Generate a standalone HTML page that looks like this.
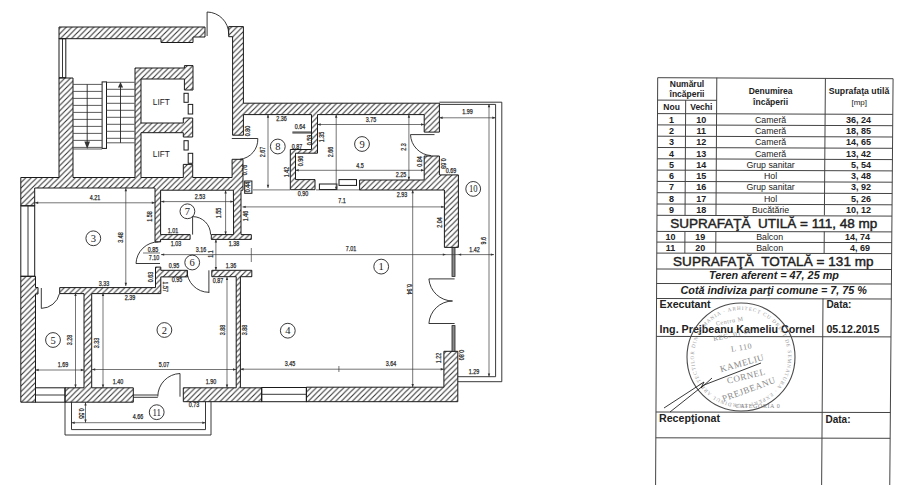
<!DOCTYPE html><html><head><meta charset="utf-8"><style>
html,body{margin:0;padding:0;background:#fff;}
svg{display:block;}
.w{fill:url(#hatch);stroke:#1a1a1a;stroke-width:1;}
.wb{fill:none;stroke:#1a1a1a;stroke-width:1;}
.win{fill:#8a8a8a;stroke:#222;stroke-width:0.8;}
.ln{fill:none;stroke:#222;stroke-width:0.9;}
.dl{fill:none;stroke:#3a3a3a;stroke-width:0.7;}
.st{fill:none;stroke:#4a4a4a;stroke-width:0.9;}
.ah{fill:#333;}
.dt{font-family:"Liberation Sans", sans-serif;font-size:6.8px;fill:#2a2a2a;stroke:#2a2a2a;stroke-width:0.25;text-anchor:middle;}
.cc{fill:none;stroke:#222;stroke-width:0.9;}
.ct{font-family:"Liberation Serif", serif;font-size:10.5px;fill:#222;text-anchor:middle;}
.lift{font-family:"Liberation Sans", sans-serif;font-size:9px;fill:#222;}
.tb{font-family:"Liberation Sans", sans-serif;font-weight:bold;fill:#222;}
.tr{font-family:"Liberation Sans", sans-serif;fill:#222;}
.tl{fill:none;stroke:#444;stroke-width:1;}
.big{stroke:#222;stroke-width:0.45;}
</style></head><body>
<svg width="900" height="485" viewBox="0 0 900 485">
<defs><pattern id="hatch" patternUnits="userSpaceOnUse" width="5.5" height="5.5"><path d="M-1,1 L1,-1 M0,5.5 L5.5,0 M4.5,6.5 L6.5,4.5" stroke="#333" stroke-width="1.1"/></pattern></defs>
<path class="w" fill-rule="evenodd" d="M193.00,42.50 L193.00,37.00 L205.00,37.00 L205.00,27.00 L59.00,27.00 L59.00,38.70 L161.00,38.70 L161.00,42.50Z M183.30,137.00 L192.70,137.00 L192.70,118.00 L183.30,118.00 L183.30,123.00 L141.00,123.00 L141.00,79.00 L184.40,79.00 L184.40,90.00 L193.00,90.00 L193.00,65.60 L184.40,65.60 L184.40,68.00 L135.00,68.00 L135.00,177.50 L73.00,177.50 L73.00,78.00 L59.00,78.00 L59.00,177.50 L20.80,177.50 L20.80,205.80 L34.70,205.80 L34.70,188.00 L155.00,188.00 L155.00,241.90 L160.60,241.90 L160.60,239.40 L190.10,239.40 L190.10,234.60 L160.60,234.60 L160.60,190.20 L232.10,190.20 L233.40,190.20 L233.60,234.60 L211.30,234.60 L211.30,239.40 L251.30,239.40 L251.30,234.60 L241.00,234.60 L241.00,190.20 L243.00,190.20 L243.00,177.50 L243.00,159.30 L232.10,159.30 L232.10,177.50 L192.70,177.50 L192.70,164.40 L183.30,164.40 L183.30,177.50 L141.00,177.50 L141.00,132.70 L183.30,132.70Z M84.00,293.60 L84.00,387.80 L65.00,387.80 L65.00,402.20 L133.30,402.20 L133.30,387.80 L91.70,387.80 L91.70,293.60 L160.80,293.60 L160.80,276.90 L187.40,276.90 L187.40,270.30 L160.80,270.30 L160.80,267.10 L155.50,267.10 L155.50,287.60 L59.70,287.60 L59.70,293.60Z M38.00,294.00 L38.00,287.50 L35.50,287.50 L35.50,276.30 L20.80,276.30 L20.80,402.20 L35.50,402.20 L35.50,294.00Z M243.40,135.20 L243.40,114.60 L311.50,114.60 L311.50,149.50 L290.30,149.50 L290.30,189.70 L315.00,189.70 L315.00,179.60 L295.50,179.60 L295.50,153.20 L317.50,153.20 L317.50,114.60 L424.20,114.60 L424.20,132.10 L439.40,132.10 L439.40,103.20 L243.40,103.20 L243.40,26.60 L228.70,26.60 L228.70,36.70 L232.60,36.70 L232.60,135.20Z M444.40,190.00 L444.40,247.40 L458.40,247.40 L458.40,174.90 L439.40,174.90 L439.40,156.00 L424.20,156.00 L424.20,180.00 L359.60,180.00 L359.60,190.00Z M183.30,387.80 L183.30,401.70 L261.70,401.70 L261.70,387.80 L240.40,387.80 L240.40,276.70 L251.80,276.70 L251.80,270.30 L211.80,270.30 L211.80,276.70 L236.20,276.70 L236.20,387.80Z M443.90,387.20 L306.40,387.20 L306.40,401.70 L457.80,401.70 L457.80,351.30 L443.90,351.30Z "/>
<rect class="wb" x="59" y="38.7" width="6.8" height="39"/>
<line class="ln" x1="62.5" y1="38.7" x2="62.5" y2="77.7"/>
<rect class="wb" x="184" y="93.3" width="4.2" height="9"/>
<rect class="wb" x="188.2" y="104.4" width="4.5" height="9.6"/>
<rect class="wb" x="184" y="140.7" width="4.2" height="9.3"/>
<rect class="wb" x="188.2" y="153.3" width="4.5" height="10"/>
<text class="lift" x="152.8" y="104.5" textLength="17" lengthAdjust="spacingAndGlyphs">LIFT</text>
<text class="lift" x="152.8" y="156.8" textLength="17" lengthAdjust="spacingAndGlyphs">LIFT</text>
<rect class="wb" x="102.1" y="81.9" width="4.4" height="66.5"/>
<line class="st" x1="73" y1="84.4" x2="102.1" y2="84.4"/>
<line class="st" x1="73" y1="91.4" x2="102.1" y2="91.4"/>
<line class="st" x1="73" y1="98.4" x2="102.1" y2="98.4"/>
<line class="st" x1="73" y1="105.4" x2="102.1" y2="105.4"/>
<line class="st" x1="73" y1="112.4" x2="102.1" y2="112.4"/>
<line class="st" x1="73" y1="119.4" x2="102.1" y2="119.4"/>
<line class="st" x1="73" y1="126.4" x2="102.1" y2="126.4"/>
<line class="st" x1="73" y1="133.4" x2="102.1" y2="133.4"/>
<line class="st" x1="73" y1="140.4" x2="102.1" y2="140.4"/>
<line class="st" x1="73" y1="147.4" x2="102.1" y2="147.4"/>
<line class="st" x1="73" y1="149" x2="102.1" y2="149"/>
<line class="st" x1="106.5" y1="82.3" x2="134.6" y2="82.3"/>
<line class="st" x1="106.5" y1="89.3" x2="134.6" y2="89.3"/>
<line class="st" x1="106.5" y1="96.3" x2="134.6" y2="96.3"/>
<line class="st" x1="106.5" y1="103.3" x2="134.6" y2="103.3"/>
<line class="st" x1="106.5" y1="110.3" x2="134.6" y2="110.3"/>
<line class="st" x1="106.5" y1="117.3" x2="134.6" y2="117.3"/>
<line class="st" x1="106.5" y1="124.3" x2="134.6" y2="124.3"/>
<line class="st" x1="106.5" y1="131.3" x2="134.6" y2="131.3"/>
<line class="st" x1="106.5" y1="138.3" x2="134.6" y2="138.3"/>
<line class="st" x1="106.5" y1="142.8" x2="134.6" y2="142.8"/>
<line class="ln" x1="87.2" y1="84.4" x2="87.2" y2="142"/>
<polygon class="ah" points="87.2,149 84.4,141.5 90,141.5"/>
<line class="ln" x1="120.5" y1="86" x2="120.5" y2="142.8"/>
<polygon class="ah" points="120.5,82 117.9,87.5 123.1,87.5"/>
<line class="ln" x1="207.1" y1="12" x2="207.1" y2="36"/>
<path class="ln" d="M207.1,12 A22,22 0 0 1 228.7,34"/>
<line class="ln" x1="292.4" y1="132" x2="311.5" y2="132"/>
<line class="ln" x1="292.4" y1="133" x2="311.5" y2="133"/>
<rect class="wb" x="319.4" y="184" width="17.5" height="5.5"/>
<rect class="wb" x="339" y="179.6" width="17.5" height="5.8"/>
<line class="ln" x1="231.8" y1="138.5" x2="257.8" y2="138.5"/>
<path class="ln" d="M257.8,138.5 A20,20 0 0 1 240,159.3"/>
<rect class="wb" x="244.7" y="181" width="7.2" height="12.3"/>
<line class="ln" x1="192.6" y1="216.6" x2="192.6" y2="234.6"/>
<path class="ln" d="M192.6,216.6 A18,18 0 0 1 210.6,234.6"/>
<line class="ln" x1="136" y1="263.5" x2="160" y2="263.5"/>
<path class="ln" d="M158.5,241.9 A22.5,22.5 0 0 0 136,263.5"/>
<line class="ln" x1="208.9" y1="270.3" x2="208.9" y2="293"/>
<path class="ln" d="M186.9,270.3 A22,22 0 0 0 208.9,292.3"/>
<rect class="wb" x="20.8" y="205.8" width="13.9" height="70.5"/>
<line class="ln" x1="28" y1="205.8" x2="28" y2="276.3"/>
<line class="ln" x1="41.3" y1="288" x2="41.3" y2="308.4"/>
<path class="ln" d="M41.3,308.4 A19,19 0 0 0 59.5,293.6"/>
<rect class="wb" x="35.5" y="387.8" width="29.5" height="14.4"/>
<line class="ln" x1="35.5" y1="395" x2="65" y2="395"/>
<line class="ln" x1="133.3" y1="395" x2="157.8" y2="395"/>
<line class="ln" x1="133.3" y1="397.3" x2="157.8" y2="397.3"/>
<line class="ln" x1="180" y1="373.5" x2="180" y2="396.7"/>
<path class="ln" d="M180,373.5 A23,23 0 0 0 157.8,396.5"/>
<rect class="wb" x="261.7" y="387.5" width="44.7" height="14.2"/>
<line class="ln" x1="261.7" y1="394.3" x2="306.4" y2="394.3"/>
<line class="ln" x1="410.5" y1="134.6" x2="434.5" y2="134.6"/>
<path class="ln" d="M410.5,134.6 A22,22 0 0 0 431,155.6"/>
<rect class="win" x="452" y="247.4" width="3" height="29"/>
<rect class="win" x="452" y="325.6" width="3" height="25.7"/>
<line class="ln" x1="428.9" y1="278.9" x2="454.6" y2="278.9"/>
<path class="ln" d="M428.9,278.9 A24,24 0 0 0 452.5,301"/>
<line class="ln" x1="428.9" y1="323.5" x2="454.6" y2="323.5"/>
<path class="ln" d="M428.9,323.5 A24,24 0 0 1 452.5,301"/>
<path class="ln" d="M439.4,102.2 L501.8,102.2 L501.8,381.7 L457.8,381.7"/>
<path class="ln" d="M439.4,104.4 L495.6,104.4 L495.6,376.7 L457.8,376.7"/>
<path class="ln" d="M65,402.2 L65,435 L211,435 L211,401.7"/>
<path class="ln" d="M71.5,402.2 L71.5,429.6 L205.5,429.6 L205.5,401.7"/>
<line class="dl" x1="35" y1="202.8" x2="155" y2="202.8"/>
<polygon class="ah" points="35.0,202.8 38.2,201.6 38.2,204.0"/>
<polygon class="ah" points="155.0,202.8 151.8,201.6 151.8,204.0"/>
<line class="dl" x1="125.8" y1="188" x2="125.8" y2="286"/>
<polygon class="ah" points="125.8,188.0 124.6,191.2 127.0,191.2"/>
<polygon class="ah" points="125.8,286.0 124.6,282.8 127.0,282.8"/>
<line class="dl" x1="161" y1="201.6" x2="233.6" y2="201.6"/>
<polygon class="ah" points="161.0,201.6 164.2,200.4 164.2,202.8"/>
<polygon class="ah" points="233.6,201.6 230.4,200.4 230.4,202.8"/>
<line class="dl" x1="225.6" y1="190.2" x2="225.6" y2="234.6"/>
<polygon class="ah" points="225.6,190.2 224.4,193.4 226.8,193.4"/>
<polygon class="ah" points="225.6,234.6 224.4,231.4 226.8,231.4"/>
<line class="dl" x1="161" y1="254.6" x2="494" y2="254.6"/>
<polygon class="ah" points="161.0,254.6 164.2,253.4 164.2,255.8"/>
<polygon class="ah" points="494.0,254.6 490.8,253.4 490.8,255.8"/>
<polygon class="ah" points="446.0,254.6 442.8,253.4 442.8,255.8"/>
<polygon class="ah" points="458.0,254.6 461.2,253.4 461.2,255.8"/>
<line class="dl" x1="215.9" y1="239.4" x2="215.9" y2="270.3"/>
<polygon class="ah" points="215.9,239.4 214.7,242.6 217.1,242.6"/>
<polygon class="ah" points="215.9,270.3 214.7,267.1 217.1,267.1"/>
<line class="dl" x1="251.3" y1="248" x2="251.3" y2="262"/>
<line class="dl" x1="143" y1="253" x2="160" y2="253"/>
<line class="dl" x1="92" y1="369.5" x2="236.2" y2="369.5"/>
<polygon class="ah" points="92.0,369.5 95.2,368.3 95.2,370.7"/>
<polygon class="ah" points="236.2,369.5 233.0,368.3 233.0,370.7"/>
<line class="dl" x1="103" y1="292.9" x2="103" y2="387.8"/>
<polygon class="ah" points="103.0,292.9 101.8,296.1 104.2,296.1"/>
<polygon class="ah" points="103.0,387.8 101.8,384.6 104.2,384.6"/>
<line class="dl" x1="227" y1="276.7" x2="227" y2="387.8"/>
<polygon class="ah" points="227.0,276.7 225.8,279.9 228.2,279.9"/>
<polygon class="ah" points="227.0,387.8 225.8,384.6 228.2,384.6"/>
<line class="dl" x1="35.5" y1="370" x2="84" y2="370"/>
<polygon class="ah" points="35.5,370.0 38.7,368.8 38.7,371.2"/>
<polygon class="ah" points="84.0,370.0 80.8,368.8 80.8,371.2"/>
<line class="dl" x1="75.5" y1="292.9" x2="75.5" y2="387.8"/>
<polygon class="ah" points="75.5,292.9 74.3,296.1 76.7,296.1"/>
<polygon class="ah" points="75.5,387.8 74.3,384.6 76.7,384.6"/>
<line class="dl" x1="240.4" y1="369.2" x2="443.9" y2="369.2"/>
<polygon class="ah" points="240.4,369.2 243.6,368.0 243.6,370.4"/>
<polygon class="ah" points="443.9,369.2 440.7,368.0 440.7,370.4"/>
<line class="dl" x1="338.9" y1="366" x2="338.9" y2="372"/>
<line class="dl" x1="412.7" y1="190" x2="412.7" y2="387.2"/>
<polygon class="ah" points="412.7,190.0 411.5,193.2 413.9,193.2"/>
<polygon class="ah" points="412.7,387.2 411.5,384.0 413.9,384.0"/>
<line class="dl" x1="242.5" y1="206.9" x2="444.4" y2="206.9"/>
<polygon class="ah" points="242.5,206.9 245.7,205.7 245.7,208.1"/>
<polygon class="ah" points="444.4,206.9 441.2,205.7 441.2,208.1"/>
<line class="dl" x1="317.5" y1="124.5" x2="424.2" y2="124.5"/>
<polygon class="ah" points="317.5,124.5 320.7,123.3 320.7,125.7"/>
<polygon class="ah" points="424.2,124.5 421.0,123.3 421.0,125.7"/>
<line class="dl" x1="336.2" y1="114.6" x2="336.2" y2="190"/>
<polygon class="ah" points="336.2,114.6 335.0,117.8 337.4,117.8"/>
<polygon class="ah" points="336.2,190.0 335.0,186.8 337.4,186.8"/>
<line class="dl" x1="295.5" y1="170.3" x2="424.2" y2="170.3"/>
<polygon class="ah" points="295.5,170.3 298.7,169.1 298.7,171.5"/>
<polygon class="ah" points="424.2,170.3 421.0,169.1 421.0,171.5"/>
<line class="dl" x1="408.9" y1="114.6" x2="408.9" y2="180"/>
<polygon class="ah" points="408.9,114.6 407.7,117.8 410.1,117.8"/>
<polygon class="ah" points="408.9,180.0 407.7,176.8 410.1,176.8"/>
<line class="dl" x1="268" y1="114.6" x2="268" y2="188"/>
<polygon class="ah" points="268.0,114.6 266.8,117.8 269.2,117.8"/>
<polygon class="ah" points="268.0,188.0 266.8,184.8 269.2,184.8"/>
<line class="dl" x1="439.4" y1="117.8" x2="495.5" y2="117.8"/>
<polygon class="ah" points="439.4,117.8 442.6,116.6 442.6,119.0"/>
<polygon class="ah" points="495.5,117.8 492.3,116.6 492.3,119.0"/>
<line class="dl" x1="489" y1="104" x2="489" y2="376.7"/>
<polygon class="ah" points="489.0,104.0 487.8,107.2 490.2,107.2"/>
<polygon class="ah" points="489.0,376.7 487.8,373.5 490.2,373.5"/>
<line class="dl" x1="71.5" y1="422.7" x2="205.5" y2="422.7"/>
<polygon class="ah" points="71.5,422.7 74.7,421.5 74.7,423.9"/>
<polygon class="ah" points="205.5,422.7 202.3,421.5 202.3,423.9"/>
<line class="dl" x1="85.5" y1="402.2" x2="85.5" y2="422.7"/>
<polygon class="ah" points="85.5,402.2 84.3,405.4 86.7,405.4"/>
<polygon class="ah" points="85.5,422.7 84.3,419.5 86.7,419.5"/>
<line class="dl" x1="253" y1="189.9" x2="290" y2="189.9"/>
<line class="dl" x1="316" y1="189.9" x2="360" y2="189.9"/>
<text class="dt" x="95" y="199.7" textLength="10.5" lengthAdjust="spacingAndGlyphs">4.21</text>
<text class="dt" transform="translate(120.8,237.6) rotate(-90)" x="0" y="1.7" textLength="10.5" lengthAdjust="spacingAndGlyphs">3.48</text>
<text class="dt" x="104" y="285.7" textLength="10.5" lengthAdjust="spacingAndGlyphs">3.33</text>
<text class="dt" x="130" y="299.7" textLength="10.5" lengthAdjust="spacingAndGlyphs">2.39</text>
<text class="dt" transform="translate(150.5,216.5) rotate(-90)" x="0" y="1.7" textLength="10.5" lengthAdjust="spacingAndGlyphs">1.58</text>
<text class="dt" x="200" y="199.2" textLength="10.5" lengthAdjust="spacingAndGlyphs">2.53</text>
<text class="dt" transform="translate(219.5,213) rotate(-90)" x="0" y="1.7" textLength="10.5" lengthAdjust="spacingAndGlyphs">1.55</text>
<text class="dt" transform="translate(246.5,216) rotate(-90)" x="0" y="1.7" textLength="10.5" lengthAdjust="spacingAndGlyphs">1.46</text>
<text class="dt" x="173" y="232.7" textLength="10.5" lengthAdjust="spacingAndGlyphs">1.01</text>
<text class="dt" x="176" y="245.7" textLength="10.5" lengthAdjust="spacingAndGlyphs">1.03</text>
<text class="dt" x="234" y="245.7" textLength="10.5" lengthAdjust="spacingAndGlyphs">1.38</text>
<text class="dt" x="153" y="251.7" textLength="10.5" lengthAdjust="spacingAndGlyphs">0.85</text>
<text class="dt" x="154" y="260.2" textLength="10.5" lengthAdjust="spacingAndGlyphs">7.10</text>
<text class="dt" x="201" y="251.7" textLength="10.5" lengthAdjust="spacingAndGlyphs">3.16</text>
<text class="dt" transform="translate(211,254) rotate(-90)" x="0" y="1.7" textLength="7.5" lengthAdjust="spacingAndGlyphs">1.1</text>
<text class="dt" x="174" y="268.2" textLength="10.5" lengthAdjust="spacingAndGlyphs">0.95</text>
<text class="dt" x="231" y="267.7" textLength="10.5" lengthAdjust="spacingAndGlyphs">1.36</text>
<text class="dt" transform="translate(151.3,277) rotate(-90)" x="0" y="1.7" textLength="10.5" lengthAdjust="spacingAndGlyphs">0.63</text>
<text class="dt" transform="translate(164.7,286.7) rotate(90)" x="0" y="1.7" textLength="10.5" lengthAdjust="spacingAndGlyphs">1.57</text>
<text class="dt" x="177" y="282.2" textLength="10.5" lengthAdjust="spacingAndGlyphs">0.95</text>
<text class="dt" x="218" y="282.7" textLength="10.5" lengthAdjust="spacingAndGlyphs">0.87</text>
<text class="dt" transform="translate(223,330) rotate(-90)" x="0" y="1.7" textLength="10.5" lengthAdjust="spacingAndGlyphs">3.88</text>
<text class="dt" transform="translate(245,330) rotate(-90)" x="0" y="1.7" textLength="10.5" lengthAdjust="spacingAndGlyphs">3.88</text>
<text class="dt" x="164" y="367.2" textLength="10.5" lengthAdjust="spacingAndGlyphs">5.07</text>
<text class="dt" x="290" y="366.2" textLength="10.5" lengthAdjust="spacingAndGlyphs">3.45</text>
<text class="dt" x="391" y="366.2" textLength="10.5" lengthAdjust="spacingAndGlyphs">3.64</text>
<text class="dt" transform="translate(439,358) rotate(-90)" x="0" y="1.7" textLength="10.5" lengthAdjust="spacingAndGlyphs">1.22</text>
<text class="dt" transform="translate(461,355) rotate(90)" x="0" y="1.7" textLength="10.5" lengthAdjust="spacingAndGlyphs">0.80</text>
<text class="dt" x="474" y="373.7" textLength="10.5" lengthAdjust="spacingAndGlyphs">1.29</text>
<text class="dt" x="474.5" y="251.7" textLength="10.5" lengthAdjust="spacingAndGlyphs">1.42</text>
<text class="dt" transform="translate(408.6,289.3) rotate(90)" x="0" y="1.7" textLength="10.5" lengthAdjust="spacingAndGlyphs">6.94</text>
<text class="dt" transform="translate(440.2,222.6) rotate(-90)" x="0" y="1.7" textLength="10.5" lengthAdjust="spacingAndGlyphs">2.04</text>
<text class="dt" transform="translate(484.3,240.7) rotate(-90)" x="0" y="1.7" textLength="7.5" lengthAdjust="spacingAndGlyphs">9.6</text>
<text class="dt" x="402" y="196.7" textLength="10.5" lengthAdjust="spacingAndGlyphs">2.93</text>
<text class="dt" x="401" y="176.7" textLength="10.5" lengthAdjust="spacingAndGlyphs">2.25</text>
<text class="dt" transform="translate(419.8,161.5) rotate(-90)" x="0" y="1.7" textLength="10.5" lengthAdjust="spacingAndGlyphs">0.84</text>
<text class="dt" transform="translate(442.7,163.4) rotate(90)" x="0" y="1.7" textLength="10.5" lengthAdjust="spacingAndGlyphs">0.69</text>
<text class="dt" x="451" y="172.7" textLength="10.5" lengthAdjust="spacingAndGlyphs">0.69</text>
<text class="dt" transform="translate(404,147) rotate(-90)" x="0" y="1.7" textLength="7.5" lengthAdjust="spacingAndGlyphs">2.3</text>
<text class="dt" x="467.5" y="114.2" textLength="10.5" lengthAdjust="spacingAndGlyphs">1.99</text>
<text class="dt" x="371" y="121.7" textLength="10.5" lengthAdjust="spacingAndGlyphs">3.75</text>
<text class="dt" transform="translate(331.5,152) rotate(-90)" x="0" y="1.7" textLength="10.5" lengthAdjust="spacingAndGlyphs">2.66</text>
<text class="dt" transform="translate(322,137) rotate(-90)" x="0" y="1.7" textLength="10.5" lengthAdjust="spacingAndGlyphs">1.35</text>
<text class="dt" transform="translate(310,140) rotate(-90)" x="0" y="1.7" textLength="10.5" lengthAdjust="spacingAndGlyphs">0.59</text>
<text class="dt" x="300" y="129.2" textLength="10.5" lengthAdjust="spacingAndGlyphs">0.64</text>
<text class="dt" x="297" y="148.7" textLength="10.5" lengthAdjust="spacingAndGlyphs">0.87</text>
<text class="dt" transform="translate(301,161) rotate(-90)" x="0" y="1.7" textLength="10.5" lengthAdjust="spacingAndGlyphs">0.96</text>
<text class="dt" transform="translate(287,172) rotate(-90)" x="0" y="1.7" textLength="10.5" lengthAdjust="spacingAndGlyphs">1.42</text>
<text class="dt" x="360" y="167.7" textLength="7.5" lengthAdjust="spacingAndGlyphs">4.5</text>
<text class="dt" x="281.5" y="121.4" textLength="10.5" lengthAdjust="spacingAndGlyphs">2.36</text>
<text class="dt" transform="translate(263.4,152) rotate(-90)" x="0" y="1.7" textLength="10.5" lengthAdjust="spacingAndGlyphs">2.67</text>
<text class="dt" transform="translate(248,131) rotate(-90)" x="0" y="1.7" textLength="10.5" lengthAdjust="spacingAndGlyphs">0.80</text>
<text class="dt" transform="translate(245.5,170) rotate(-90)" x="0" y="1.7" textLength="10.5" lengthAdjust="spacingAndGlyphs">0.76</text>
<text class="dt" transform="translate(248.3,187) rotate(-90)" x="0" y="1.7" textLength="10.5" lengthAdjust="spacingAndGlyphs">0.44</text>
<text class="dt" x="303" y="195.7" textLength="10.5" lengthAdjust="spacingAndGlyphs">0.90</text>
<text class="dt" x="342" y="203.2" textLength="7.5" lengthAdjust="spacingAndGlyphs">7.1</text>
<text class="dt" x="351" y="251.2" textLength="10.5" lengthAdjust="spacingAndGlyphs">7.01</text>
<text class="dt" transform="translate(70,340) rotate(-90)" x="0" y="1.7" textLength="10.5" lengthAdjust="spacingAndGlyphs">3.28</text>
<text class="dt" transform="translate(97,343) rotate(-90)" x="0" y="1.7" textLength="10.5" lengthAdjust="spacingAndGlyphs">3.33</text>
<text class="dt" x="63" y="366.7" textLength="10.5" lengthAdjust="spacingAndGlyphs">1.69</text>
<text class="dt" x="118" y="384.2" textLength="10.5" lengthAdjust="spacingAndGlyphs">1.40</text>
<text class="dt" x="211" y="384.2" textLength="10.5" lengthAdjust="spacingAndGlyphs">1.90</text>
<text class="dt" transform="translate(80.4,413.4) rotate(90)" x="0" y="1.7" textLength="10.5" lengthAdjust="spacingAndGlyphs">0.55</text>
<text class="dt" x="138" y="419.2" textLength="10.5" lengthAdjust="spacingAndGlyphs">4.66</text>
<text class="dt" x="194" y="407.2" textLength="10.5" lengthAdjust="spacingAndGlyphs">0.73</text>
<circle class="cc" cx="381.2" cy="266.6" r="7.4"/>
<text class="ct" x="381.2" y="270.1">1</text>
<circle class="cc" cx="164.4" cy="330" r="7.4"/>
<text class="ct" x="164.4" y="333.5">2</text>
<circle class="cc" cx="93.3" cy="238.3" r="7.4"/>
<text class="ct" x="93.3" y="241.8">3</text>
<circle class="cc" cx="287.8" cy="330.7" r="7.4"/>
<text class="ct" x="287.8" y="334.2">4</text>
<circle class="cc" cx="53" cy="340" r="7.4"/>
<text class="ct" x="53" y="343.5">5</text>
<circle class="cc" cx="192.2" cy="262.5" r="7.4"/>
<text class="ct" x="192.2" y="266.0">6</text>
<circle class="cc" cx="187.4" cy="211.3" r="7.4"/>
<text class="ct" x="187.4" y="214.8">7</text>
<circle class="cc" cx="277.8" cy="146.5" r="7.4"/>
<text class="ct" x="277.8" y="150.0">8</text>
<circle class="cc" cx="362" cy="144" r="7.4"/>
<text class="ct" x="362" y="147.5">9</text>
<circle class="cc" cx="473.2" cy="188.9" r="7.4"/>
<text class="ct" x="473.2" y="192.4" textLength="8.6" lengthAdjust="spacingAndGlyphs">10</text>
<circle class="cc" cx="156.7" cy="412.2" r="7.4"/>
<text class="ct" x="156.7" y="415.7" textLength="8.6" lengthAdjust="spacingAndGlyphs">11</text>
<line class="tl" x1="657.70" y1="77.7" x2="893.10" y2="78.70"/>
<line class="tl" x1="657.70" y1="77.7" x2="655.58" y2="486"/>
<line class="tl" x1="893.09" y1="78.7" x2="889.75" y2="486"/>
<line class="tl" x1="657.59" y1="100.1" x2="716.67" y2="100.30"/>
<line class="tl" x1="685.68" y1="100.1" x2="685.04" y2="215.3"/>
<line class="tl" x1="716.80" y1="77.7" x2="715.98" y2="215.3"/>
<line class="tl" x1="825.40" y1="78.2" x2="824.39" y2="215.3"/>
<line class="tl" x1="684.95" y1="231.4" x2="684.83" y2="253.1"/>
<line class="tl" x1="715.89" y1="231.4" x2="715.76" y2="253.1"/>
<line class="tl" x1="824.27" y1="231.4" x2="824.12" y2="253.1"/>
<line class="tl" x1="657.51" y1="113.6" x2="892.81" y2="114.40"/>
<line class="tl" x1="657.46" y1="124.89999999999999" x2="892.72" y2="125.70"/>
<line class="tl" x1="657.40" y1="136.2" x2="892.62" y2="137.00"/>
<line class="tl" x1="657.34" y1="147.5" x2="892.53" y2="148.30"/>
<line class="tl" x1="657.28" y1="158.8" x2="892.44" y2="159.60"/>
<line class="tl" x1="657.22" y1="170.1" x2="892.34" y2="170.90"/>
<line class="tl" x1="657.16" y1="181.4" x2="892.25" y2="182.20"/>
<line class="tl" x1="657.10" y1="192.7" x2="892.16" y2="193.50"/>
<line class="tl" x1="657.04" y1="204.0" x2="892.07" y2="204.80"/>
<line class="tl" x1="656.99" y1="215.3" x2="891.97" y2="216.10"/>
<line class="tl" x1="656.90" y1="231.4" x2="891.84" y2="231.90"/>
<line class="tl" x1="656.85" y1="242.1" x2="891.75" y2="242.60"/>
<line class="tl" x1="656.79" y1="253.1" x2="891.66" y2="253.60"/>
<line class="tl" x1="656.71" y1="269.0" x2="891.53" y2="269.50"/>
<line class="tl" x1="656.63" y1="283.5" x2="891.41" y2="284.00"/>
<line class="tl" x1="656.55" y1="298.5" x2="891.29" y2="299.00"/>
<line class="tl" x1="656.36" y1="336.4" x2="890.98" y2="336.90"/>
<line class="tl" x1="655.96" y1="412.0" x2="890.36" y2="412.50"/>
<line class="tl" x1="655.83" y1="437.8" x2="890.15" y2="438.30"/>
<line class="tl" x1="823.00" y1="298.5" x2="821.62" y2="486"/>
<text class="tb" x="687" y="86.7" font-size="8.5" text-anchor="middle" >Numărul</text>
<text class="tb" x="687" y="97.2" font-size="8.5" text-anchor="middle" >încăperii</text>
<text class="tb" x="671.6" y="109.9" font-size="8.5" text-anchor="middle" >Nou</text>
<text class="tb" x="701.3" y="109.9" font-size="8.5" text-anchor="middle" >Vechi</text>
<text class="tb" x="770.6" y="94" font-size="8.5" text-anchor="middle" >Denumirea</text>
<text class="tb" x="770.6" y="104.7" font-size="8.5" text-anchor="middle" >încăperii</text>
<text class="tb" x="859" y="94.1" font-size="8.5" text-anchor="middle" textLength="60.6" lengthAdjust="spacingAndGlyphs" >Suprafaţa utilă</text>
<text class="tr" x="859.2" y="105.3" font-size="8" text-anchor="middle" >[mp]</text>
<text class="tb" x="671.6" y="122.6" font-size="9" text-anchor="middle" >1</text>
<text class="tb" x="701.3" y="122.6" font-size="9" text-anchor="middle" >10</text>
<text class="tr" x="770.6" y="122.6" font-size="8.8" text-anchor="middle" >Cameră</text>
<text class="tb" x="871" y="122.6" font-size="9" text-anchor="end" >36, 24</text>
<text class="tb" x="671.6" y="133.89999999999998" font-size="9" text-anchor="middle" >2</text>
<text class="tb" x="701.3" y="133.89999999999998" font-size="9" text-anchor="middle" >11</text>
<text class="tr" x="770.6" y="133.89999999999998" font-size="8.8" text-anchor="middle" >Cameră</text>
<text class="tb" x="871" y="133.89999999999998" font-size="9" text-anchor="end" >18, 85</text>
<text class="tb" x="671.6" y="145.2" font-size="9" text-anchor="middle" >3</text>
<text class="tb" x="701.3" y="145.2" font-size="9" text-anchor="middle" >12</text>
<text class="tr" x="770.6" y="145.2" font-size="8.8" text-anchor="middle" >Cameră</text>
<text class="tb" x="871" y="145.2" font-size="9" text-anchor="end" >14, 65</text>
<text class="tb" x="671.6" y="156.5" font-size="9" text-anchor="middle" >4</text>
<text class="tb" x="701.3" y="156.5" font-size="9" text-anchor="middle" >13</text>
<text class="tr" x="770.6" y="156.5" font-size="8.8" text-anchor="middle" >Cameră</text>
<text class="tb" x="871" y="156.5" font-size="9" text-anchor="end" >13, 42</text>
<text class="tb" x="671.6" y="167.8" font-size="9" text-anchor="middle" >5</text>
<text class="tb" x="701.3" y="167.8" font-size="9" text-anchor="middle" >14</text>
<text class="tr" x="770.6" y="167.8" font-size="8.8" text-anchor="middle" >Grup sanitar</text>
<text class="tb" x="871" y="167.8" font-size="9" text-anchor="end" >5, 54</text>
<text class="tb" x="671.6" y="179.1" font-size="9" text-anchor="middle" >6</text>
<text class="tb" x="701.3" y="179.1" font-size="9" text-anchor="middle" >15</text>
<text class="tr" x="770.6" y="179.1" font-size="8.8" text-anchor="middle" >Hol</text>
<text class="tb" x="871" y="179.1" font-size="9" text-anchor="end" >3, 48</text>
<text class="tb" x="671.6" y="190.4" font-size="9" text-anchor="middle" >7</text>
<text class="tb" x="701.3" y="190.4" font-size="9" text-anchor="middle" >16</text>
<text class="tr" x="770.6" y="190.4" font-size="8.8" text-anchor="middle" >Grup sanitar</text>
<text class="tb" x="871" y="190.4" font-size="9" text-anchor="end" >3, 92</text>
<text class="tb" x="671.6" y="201.7" font-size="9" text-anchor="middle" >8</text>
<text class="tb" x="701.3" y="201.7" font-size="9" text-anchor="middle" >17</text>
<text class="tr" x="770.6" y="201.7" font-size="8.8" text-anchor="middle" >Hol</text>
<text class="tb" x="871" y="201.7" font-size="9" text-anchor="end" >5, 26</text>
<text class="tb" x="671.6" y="213.0" font-size="9" text-anchor="middle" >9</text>
<text class="tb" x="701.3" y="213.0" font-size="9" text-anchor="middle" >18</text>
<text class="tr" x="770.6" y="213.0" font-size="8.8" text-anchor="middle" >Bucătărie</text>
<text class="tb" x="871" y="213.0" font-size="9" text-anchor="end" >10, 12</text>
<text class="tr big" x="773.8" y="227.9" font-size="13.5" text-anchor="middle" textLength="207" lengthAdjust="spacing" >SUPRAFAŢĂ&#160; UTILĂ = 111, 48 mp</text>
<text class="tb" x="670.6" y="240.20000000000002" font-size="9" text-anchor="middle" >10</text>
<text class="tb" x="700.3" y="240.20000000000002" font-size="9" text-anchor="middle" >19</text>
<text class="tr" x="769.6" y="240.20000000000002" font-size="8.8" text-anchor="middle" >Balcon</text>
<text class="tb" x="870" y="240.20000000000002" font-size="9" text-anchor="end" >14, 74</text>
<text class="tb" x="670.6" y="250.9" font-size="9" text-anchor="middle" >11</text>
<text class="tb" x="700.3" y="250.9" font-size="9" text-anchor="middle" >20</text>
<text class="tr" x="769.6" y="250.9" font-size="8.8" text-anchor="middle" >Balcon</text>
<text class="tb" x="870" y="250.9" font-size="9" text-anchor="end" >4, 69</text>
<text class="tr big" x="773.3" y="265.6" font-size="13.5" text-anchor="middle" textLength="200.5" lengthAdjust="spacing" >SUPRAFAŢĂ&#160; TOTALĂ = 131 mp</text>
<text class="tb" x="774" y="279.3" font-size="10" text-anchor="middle" textLength="129.8" lengthAdjust="spacingAndGlyphs" font-style="italic">Teren aferent = 47, 25 mp</text>
<text class="tb" x="773.7" y="294.3" font-size="10" text-anchor="middle" textLength="186.4" lengthAdjust="spacingAndGlyphs" font-style="italic">Cotă indiviza parţi comune = 7, 75 %</text>
<text class="tb" x="659.6" y="308" font-size="10" text-anchor="start" textLength="51" lengthAdjust="spacingAndGlyphs" >Executant</text>
<text class="tb" x="826.4" y="308" font-size="10" text-anchor="start" textLength="25" lengthAdjust="spacingAndGlyphs" >Data:</text>
<text class="tb" x="659.6" y="333.3" font-size="10" text-anchor="start" textLength="155.2" lengthAdjust="spacingAndGlyphs" >Ing. Prejbeanu Kameliu Cornel</text>
<text class="tb" x="826.4" y="333.3" font-size="10" text-anchor="start" textLength="53" lengthAdjust="spacingAndGlyphs" >05.12.2015</text>
<text class="tb" x="659" y="422.2" font-size="10" text-anchor="start" textLength="61" lengthAdjust="spacingAndGlyphs" >Recepţionat</text>
<text class="tb" x="825.5" y="422.6" font-size="10" text-anchor="start" textLength="25" lengthAdjust="spacingAndGlyphs" >Data:</text>
<g>
<circle cx="741" cy="357" r="54" fill="none" stroke="#4a4a4a" stroke-width="1.1"/>
<path id="ring" d="M741,404 A47,47 0 1 1 741.1,404" fill="none"/>
<text font-family="'Liberation Serif', serif" font-size="5.2" fill="#9a9a9a" letter-spacing="0.9"><textPath href="#ring">ORDINUL ARHITECTILOR DIN ROMANIA · ARHITECT CU DREPT DE SEMNATURA · EXPERT TEHNIC · CATEGORIA D · NR. 3 ·</textPath></text>
<text x="730" y="323" font-family="'Liberation Serif', serif" font-size="6" fill="#999" text-anchor="middle" letter-spacing="0.6" transform="rotate(-10 730 323)">Centru M</text>
<text x="733" y="337" font-family="'Liberation Serif', serif" font-size="7" fill="#888" text-anchor="middle" letter-spacing="0.6" transform="rotate(-12 733 337)">REG. 01 00</text>
<text x="742" y="350" font-family="'Liberation Serif', serif" font-size="8" fill="#888" text-anchor="middle" letter-spacing="0.6" transform="rotate(-10 742 350)">L 110</text>
<text x="743" y="366" font-family="'Liberation Serif', serif" font-size="9" fill="#8a8a8a" text-anchor="middle" letter-spacing="0.6" transform="rotate(-16 743 366)">KAMELIU</text>
<text x="747" y="379" font-family="'Liberation Serif', serif" font-size="9" fill="#8a8a8a" text-anchor="middle" letter-spacing="0.6" transform="rotate(-14 747 379)">CORNEL</text>
<text x="750" y="392" font-family="'Liberation Serif', serif" font-size="9" fill="#8a8a8a" text-anchor="middle" letter-spacing="0.6" transform="rotate(-20 750 392)">PREJBEANU</text>
<text x="758" y="408" font-family="'Liberation Serif', serif" font-size="6" fill="#888" text-anchor="middle" letter-spacing="0.6" transform="rotate(0 758 408)">CATEGORIA 0</text>
<path d="M664,408 L704,382 L701,388 L712,378 M670,412 L704,385 L761,363" fill="none" stroke="#222" stroke-width="0.9"/>
</g>
</svg></body></html>
